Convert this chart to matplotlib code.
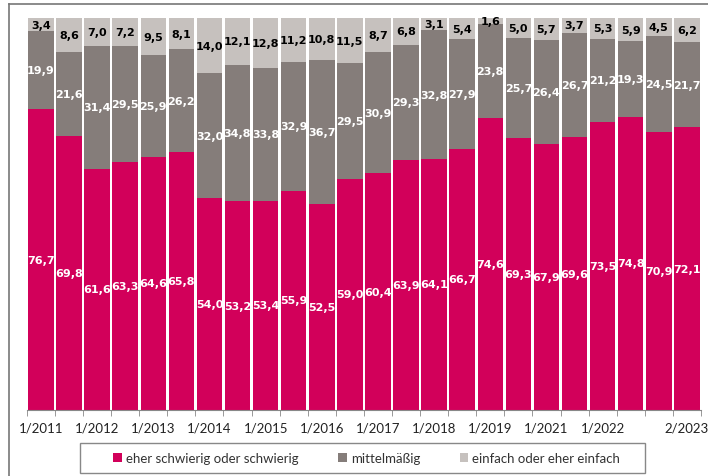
import matplotlib
matplotlib.use("Agg")
import matplotlib.pyplot as plt
from matplotlib.lines import Line2D
from matplotlib.patches import Rectangle
import numpy as np

periods = ["1/2011", "2/2011", "1/2012", "2/2012", "1/2013", "2/2013",
           "1/2014", "2/2014", "1/2015", "2/2015", "1/2016", "2/2016",
           "1/2017", "2/2017", "1/2018", "2/2018", "1/2019", "2/2019",
           "1/2021", "2/2021", "1/2022", "2/2022", "1/2023", "2/2023"]
shown = ["1/2011", "1/2012", "1/2013", "1/2014", "1/2015", "1/2016",
         "1/2017", "1/2018", "1/2019", "1/2021", "1/2022", "2/2023"]

schwierig = [76.7, 69.8, 61.6, 63.3, 64.6, 65.8, 54.0, 53.2, 53.4, 55.9, 52.5, 59.0,
             60.4, 63.9, 64.1, 66.7, 74.6, 69.3, 67.9, 69.6, 73.5, 74.8, 70.9, 72.1]
mittel = [19.9, 21.6, 31.4, 29.5, 25.9, 26.2, 32.0, 34.8, 33.8, 32.9, 36.7, 29.5,
          30.9, 29.3, 32.8, 27.9, 23.8, 25.7, 26.4, 26.7, 21.2, 19.3, 24.5, 21.7]
einfach = [3.4, 8.6, 7.0, 7.2, 9.5, 8.1, 14.0, 12.1, 12.8, 11.2, 10.8, 11.5,
           8.7, 6.8, 3.1, 5.4, 1.6, 5.0, 5.7, 3.7, 5.3, 5.9, 4.5, 6.2]

series = [
    ("eher schwierig oder schwierig", schwierig, "#D2005A", "white"),
    ("mittelmäßig", mittel, "#857D7A", "white"),
    ("einfach oder eher einfach", einfach, "#C6C1BE", "black"),
]

W, H = 708, 477
fig = plt.figure(figsize=(W / 100, H / 100), dpi=100)
ax = fig.add_axes([0.038, 0.1384, 0.952, 0.8216])

x = np.arange(len(periods))
bottom = np.zeros(len(periods))
for name, vals, color, tcolor in series:
    vals = np.array(vals)
    ax.bar(x, vals, bottom=bottom, width=0.91, color=color, label=name,
           edgecolor="none")
    for xi, b, v in zip(x, bottom, vals):
        ax.text(xi, b + v / 2, f"{v:.1f}".replace(".", ","), ha="center",
                va="center", color=tcolor, fontsize=8, fontweight="bold",
                family="DejaVu Sans")
    bottom += vals

ax.set_xlim(-0.5, len(periods) - 0.5)
ax.set_ylim(0, 100)
ax.set_yticks([])
for s in ["left", "right", "top"]:
    ax.spines[s].set_visible(False)
ax.spines["bottom"].set_color("#888888")

# labels on categories, tick marks between categories
pos = [periods.index(p) for p in shown]
ax.set_xticks(pos)
ax.set_xticklabels(shown, family="Lato", fontsize=9.5, color="#222222")
ax.tick_params(axis="x", which="major", length=0, pad=8)
ax.set_xticks(np.arange(-0.5, len(periods)), minor=True)
ax.tick_params(axis="x", which="minor", length=4, color="#888888")

leg = fig.legend(loc="center", bbox_to_anchor=(0.518, 1 - 459 / H), ncol=3,
                 frameon=False, handlelength=0.65, handleheight=0.65,
                 handletextpad=0.3, columnspacing=3.0,
                 prop={"family": "Lato", "size": 9.5})
for t in leg.get_texts():
    t.set_color("#333333")

# legend box
fig.add_artist(Rectangle((80 / W, 1 - 474 / H), 565 / W, 30 / H,
                         transform=fig.transFigure, fill=False,
                         edgecolor="#888888", lw=1.0))

# outer frame (top and left)
fig.add_artist(Line2D([9 / W, 1.0], [1 - 5 / H] * 2, color="#777777",
                      lw=1.2, transform=fig.transFigure))
fig.add_artist(Line2D([9 / W] * 2, [0, 1 - 5 / H], color="#777777",
                      lw=1.2, transform=fig.transFigure))

fig.savefig("out.png", dpi=100)
